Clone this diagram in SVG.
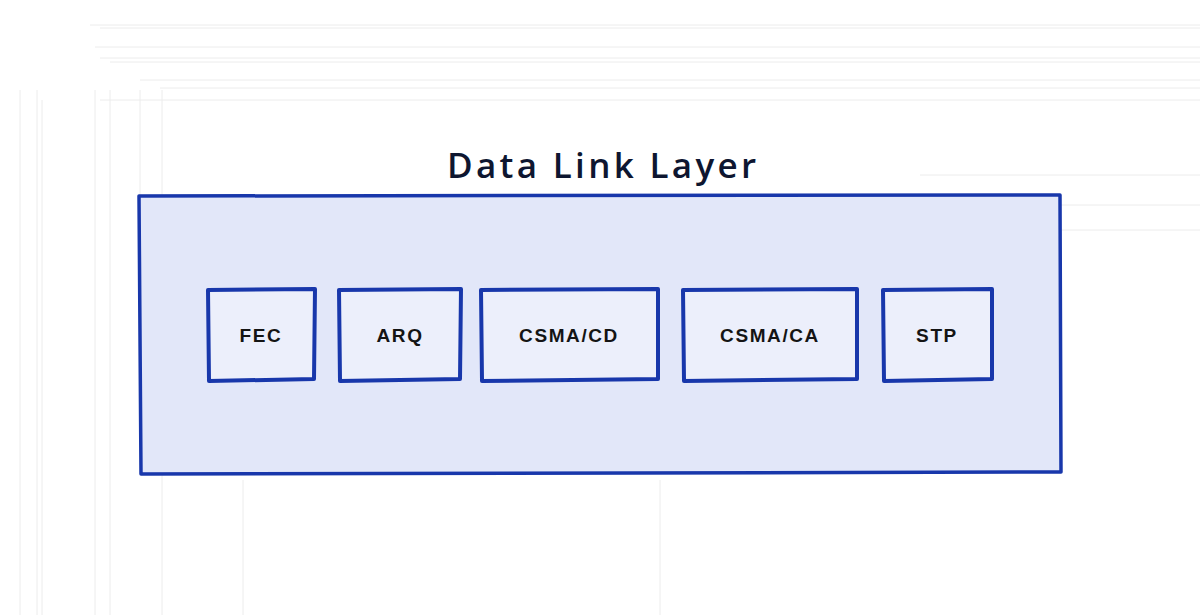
<svg xmlns="http://www.w3.org/2000/svg" width="1200" height="615" viewBox="0 0 1200 615">
<style>
.bg{stroke:#ececec;stroke-width:1;fill:none}
.outer{fill:#e2e7f9;stroke:#1837ab;stroke-width:3.5;stroke-linejoin:round}
.box{fill:#eceffb;stroke:#1837ab;stroke-width:4;stroke-linejoin:round}
.lbl{font-family:"Liberation Sans",Arial,sans-serif;font-weight:bold;font-size:19px;fill:#141414;text-anchor:middle;letter-spacing:1.6px}
.title{font-family:"Open Sans","Liberation Sans",sans-serif;font-weight:600;font-size:35px;fill:#0e1630;text-anchor:middle;letter-spacing:1px}
</style>
<rect width="1200" height="615" fill="#ffffff"/>
<g id="background">
<path class="bg" d="M90 25H1200M100 28H1200M95 47H1200M100 58H1200M110 62H1200M140 80H1200M160 88H1200M100 100H1200M920 175H1200M910 205H1200M900 230H1200"/>
<path class="bg" d="M20 90V615M37 90V615M42 100V615M95 90V615M110 90V615M140 90V195M162 90V615M243 480V615M660 480V615"/>
</g>
<text id="title" class="title" x="602" y="178" textLength="310">Data Link Layer</text>
<g id="layer">
<path class="outer" d="M139 196L1060 195L1061 472L141 474Z"/>
</g>
<g id="fec">
<path class="box" d="M208 290L315 289L314 379L209 381Z"/>
<text class="lbl" x="261" y="342">FEC</text>
</g>
<g id="arq">
<path class="box" d="M339 290L461 289L460 379L340 381Z"/>
<text class="lbl" x="400" y="342">ARQ</text>
</g>
<g id="csmacd">
<path class="box" d="M481 290L658 289L658 379L482 381Z"/>
<text class="lbl" x="569" y="342">CSMA/CD</text>
</g>
<g id="csmaca">
<path class="box" d="M683 290L857 289L857 379L684 381Z"/>
<text class="lbl" x="770" y="342">CSMA/CA</text>
</g>
<g id="stp">
<path class="box" d="M883 290L992 289L992 379L884 381Z"/>
<text class="lbl" x="937" y="342">STP</text>
</g>
<g id="connectors"/>
</svg>
